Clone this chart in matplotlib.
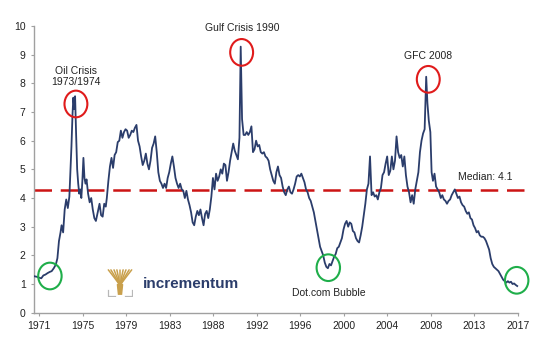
import matplotlib
matplotlib.use("Agg")
import matplotlib.pyplot as plt
from matplotlib.patches import Ellipse

plt.rcParams["font.family"] = ["Liberation Sans", "DejaVu Sans"]

# traced series (decimal year, value)
years = [
    1970.55, 1970.8, 1971.0, 1971.2, 1971.4, 1971.6, 1971.8, 1972.0, 1972.2, 1972.4,
    1972.6, 1972.75, 1972.9, 1973.05, 1973.15, 1973.3, 1973.45, 1973.6, 1973.75, 1973.9,
    1974.0, 1974.1, 1974.2, 1974.28, 1974.38, 1974.45, 1974.55, 1974.65, 1974.75, 1974.85,
    1974.95, 1975.05, 1975.15, 1975.25, 1975.35, 1975.45, 1975.55, 1975.7, 1975.85, 1976.0,
    1976.15, 1976.3, 1976.45, 1976.6, 1976.8, 1976.95, 1977.1, 1977.25, 1977.4, 1977.5,
    1977.65, 1977.8, 1977.95, 1978.1, 1978.25, 1978.4, 1978.55, 1978.7, 1978.85, 1979.0,
    1979.15, 1979.3, 1979.45, 1979.6, 1979.75, 1979.9, 1980.05, 1980.2, 1980.35, 1980.5,
    1980.65, 1980.8, 1980.95, 1981.1, 1981.25, 1981.4, 1981.55, 1981.7, 1981.85, 1982.0,
    1982.15, 1982.3, 1982.45, 1982.6, 1982.75, 1982.9, 1983.05, 1983.2, 1983.35, 1983.5,
    1983.65, 1983.8, 1983.95, 1984.1, 1984.25, 1984.4, 1984.55, 1984.7, 1984.85, 1985.0,
    1985.15, 1985.3, 1985.45, 1985.6, 1985.75, 1985.9, 1986.05, 1986.2, 1986.35, 1986.5,
    1986.65, 1986.8, 1986.95, 1987.1, 1987.25, 1987.4, 1987.55, 1987.7, 1987.85, 1988.0,
    1988.15, 1988.3, 1988.45, 1988.6, 1988.75, 1988.9, 1989.05, 1989.2, 1989.35, 1989.5,
    1989.65, 1989.8, 1989.95, 1990.1, 1990.25, 1990.37, 1990.5, 1990.65, 1990.8, 1990.95,
    1991.1, 1991.25, 1991.4, 1991.55, 1991.7, 1991.85, 1992.0, 1992.15, 1992.3, 1992.45,
    1992.6, 1992.75, 1992.9, 1993.05, 1993.2, 1993.35, 1993.5, 1993.65, 1993.8, 1993.95,
    1994.1, 1994.25, 1994.4, 1994.55, 1994.7, 1994.85, 1995.0, 1995.15, 1995.3, 1995.45,
    1995.6, 1995.75, 1995.9, 1996.05, 1996.2, 1996.35, 1996.5, 1996.65, 1996.8, 1996.95,
    1997.1, 1997.25, 1997.4, 1997.55, 1997.7, 1997.85, 1998.0, 1998.15, 1998.3, 1998.45,
    1998.6, 1998.75, 1998.9, 1999.05, 1999.2, 1999.35, 1999.5, 1999.65, 1999.8, 1999.95,
    2000.1, 2000.25, 2000.4, 2000.55, 2000.7, 2000.85, 2001.0, 2001.15, 2001.3, 2001.45,
    2001.6, 2001.75, 2001.9, 2002.05, 2002.2, 2002.35, 2002.5, 2002.65, 2002.8, 2002.95,
    2003.1, 2003.25, 2003.4, 2003.55, 2003.7, 2003.85, 2004.0, 2004.15, 2004.3, 2004.45,
    2004.6, 2004.75, 2004.9, 2005.05, 2005.2, 2005.35, 2005.5, 2005.65, 2005.8, 2005.95,
    2006.1, 2006.25, 2006.4, 2006.55, 2006.7, 2006.85, 2007.0, 2007.15, 2007.3, 2007.45,
    2007.6, 2007.75, 2007.9, 2008.05, 2008.2, 2008.32, 2008.45, 2008.6, 2008.72, 2008.85,
    2009.0, 2009.15, 2009.3, 2009.45, 2009.6, 2009.75, 2009.9, 2010.05, 2010.2, 2010.35,
    2010.5, 2010.65, 2010.8, 2010.95, 2011.1, 2011.25, 2011.4, 2011.55, 2011.7, 2011.85,
    2012.0, 2012.15, 2012.3, 2012.45, 2012.6, 2012.75, 2012.9, 2013.05, 2013.2, 2013.35,
    2013.5, 2013.65, 2013.8, 2013.95, 2014.1, 2014.25, 2014.4, 2014.55, 2014.7, 2014.85,
    2015.0, 2015.15, 2015.3, 2015.45, 2015.6, 2015.75, 2015.9, 2016.05, 2016.2, 2016.35,
    2016.5, 2016.65, 2016.8, 2016.95,
]
values = [
    1.27, 1.25, 1.22, 1.2, 1.3, 1.33, 1.38, 1.42, 1.45, 1.55,
    1.68, 1.9, 2.5, 2.8, 3.05, 2.8, 3.6, 3.95, 3.65, 4.05,
    4.9, 5.8, 6.9, 7.5, 7.1, 7.55, 6.2, 5.0, 4.5, 4.15,
    4.3, 4.0, 4.6, 5.4, 4.7, 4.5, 4.65, 4.15, 3.85, 4.0,
    3.6, 3.3, 3.2, 3.45, 3.8, 3.4, 3.35, 3.8, 3.7, 4.0,
    4.6, 5.1, 5.4, 5.05, 5.5, 5.6, 5.95, 6.0, 6.35, 6.1,
    6.3, 6.4, 6.35, 6.1, 6.2, 6.35, 6.3, 6.45, 6.55, 6.0,
    5.8, 5.45, 5.15, 5.3, 5.55, 5.2, 5.0, 5.3, 5.75, 5.9,
    6.15, 5.6, 4.9, 4.6, 4.5, 4.35, 4.5, 4.35, 4.7, 4.9,
    5.2, 5.45, 5.1, 4.7, 4.5, 4.35, 4.5, 4.3, 4.25, 4.0,
    4.25, 3.95, 3.75, 3.5, 3.15, 3.05, 3.35, 3.55, 3.4, 3.6,
    3.3, 3.05, 3.45, 3.55, 3.3, 3.6, 4.05, 4.7, 4.3, 4.85,
    4.6, 4.75, 5.0, 4.85, 5.2, 5.15, 4.6, 4.9, 5.3, 5.6,
    5.9, 5.65, 5.5, 5.35, 6.1, 9.28, 6.75, 6.2, 6.2, 6.3,
    6.2, 6.3, 6.5, 5.6, 5.7, 6.0, 5.8, 5.85, 5.6, 5.55,
    5.6, 5.45, 5.4, 5.3, 5.0, 4.8, 4.6, 4.5, 4.9, 5.1,
    4.8, 4.7, 4.4, 4.2, 4.1, 4.3, 4.4, 4.2, 4.15, 4.3,
    4.5, 4.75, 4.8, 4.75, 4.85, 4.7, 4.55, 4.3, 4.2, 4.0,
    3.9, 3.7, 3.5, 3.2, 2.9, 2.6, 2.3, 2.15, 2.0, 1.75,
    1.6, 1.55, 1.7, 1.65, 1.8, 1.95, 2.05, 2.25, 2.3, 2.45,
    2.6, 2.9, 3.1, 3.2, 3.0, 3.15, 3.1, 2.85, 2.8, 2.6,
    2.5, 2.45, 2.7, 3.0, 3.4, 3.8, 4.3, 4.5, 5.45, 4.1,
    4.2, 4.05, 4.1, 3.95, 4.2, 4.35, 4.8, 4.9, 5.2, 5.45,
    4.8, 4.95, 5.45, 5.0, 5.3, 6.15, 5.6, 5.4, 5.5, 5.1,
    5.45, 4.8, 4.4, 4.2, 3.85, 4.1, 3.8, 4.3, 4.6, 4.9,
    5.6, 6.0, 6.25, 6.4, 8.23, 7.3, 6.7, 6.3, 4.9, 4.6,
    4.85, 4.4, 4.3, 4.2, 4.0, 4.1, 3.95, 3.9, 3.8, 3.9,
    3.95, 4.1, 4.2, 4.3, 4.15, 4.0, 4.05, 3.85, 3.75, 3.7,
    3.55, 3.45, 3.5, 3.3, 3.25, 3.05, 2.95, 2.8, 2.85, 2.7,
    2.65, 2.65, 2.6, 2.5, 2.35, 2.2, 1.9, 1.7, 1.6, 1.55,
    1.5, 1.45, 1.35, 1.25, 1.15, 1.1, 1.05, 1.1, 1.05, 1.08,
    1.0, 1.02, 0.97, 0.93,
]

median_level = 4.27
median_label = "Median: 4.1"

tick_pos = [1971 + i * 46 / 11 for i in range(12)]
tick_labels = ["1971", "1975", "1979", "1983", "1988", "1992",
               "1996", "2000", "2004", "2008", "2013", "2017"]

# annotations: (text, x, y) - text centre
labels = [
    ("Oil Crisis\n1973/1974", 1974.55, 8.25),
    ("Gulf Crisis 1990", 1990.5, 9.93),
    ("GFC 2008", 2008.4, 8.97),
    ("Dot.com Bubble", 1998.85, 0.70),
    (median_label, 2013.86, 4.74),
]
red_rings = [(1974.53, 7.28), (1990.46, 9.08), (2008.4, 8.14)]
green_rings = [(1972.03, 1.28), (1998.79, 1.57), (2016.9, 1.13)]

NAVY = "#2b3d6b"
GREY = "#a0a0a0"

fig = plt.figure(figsize=(5.5, 3.52), dpi=100)
ax = fig.add_axes([34 / 550, 1 - 312.7 / 352, (524.5 - 34) / 550, (312.7 - 26) / 352])

ax.plot(years, values, color=NAVY, linewidth=1.3, zorder=3)
ax.axhline(median_level, color="#cc1414", linewidth=1.8, dashes=(7, 3.5), zorder=2)

for txt, x, y in labels:
    ax.text(x, y, txt, fontsize=7.5, color="#222222", ha="center", va="center",
            linespacing=1.15)

for x, y in red_rings:
    ax.add_patch(Ellipse((x, y), 2.2, 0.93, fill=False, edgecolor="#e01b1b",
                         linewidth=1.5, zorder=4, clip_on=False))
for x, y in green_rings:
    ax.add_patch(Ellipse((x, y), 2.25, 0.93, fill=False, edgecolor="#1fae4a",
                         linewidth=1.5, zorder=4, clip_on=False))

ax.set_xlim(1970.5, 2017.65)
ax.set_ylim(0, 10)
ax.set_yticks(range(0, 11))
ax.set_xticks(tick_pos)
ax.set_xticklabels(tick_labels)

for side in ["top", "right"]:
    ax.spines[side].set_visible(False)
ax.spines["left"].set_color(GREY)
ax.spines["bottom"].set_color(GREY)
ax.spines["left"].set_linewidth(1.0)
ax.spines["bottom"].set_linewidth(1.0)
ax.spines["bottom"].set_bounds(1970.5, 2017.05)
ax.tick_params(axis="both", colors=GREY, labelcolor="#222222", labelsize=7.5,
               length=2.5, width=0.8, pad=3.5)

# logo: tree icon + wordmark
lax = fig.add_axes([107 / 550, 1 - 297 / 352, 26 / 550, 28 / 352])
lax.set_xlim(0, 1)
lax.set_ylim(0, 1)
lax.axis("off")
GOLD = "#c9a04c"
lax.fill([0.44, 0.56, 0.6, 0.4], [0.1, 0.1, 0.45, 0.45], color=GOLD)
tips = [0.05, 0.15, 0.27, 0.38, 0.5, 0.62, 0.73, 0.85, 0.95]
for t in tips:
    lax.plot([0.5, 0.5 + (t - 0.5) * 0.5, t], [0.42, 0.7, 0.97], color=GOLD,
             linewidth=1.1, solid_capstyle="round")
lax.plot([0.02, 0.02, 0.3], [0.25, 0.02, 0.02], color="#b8b8b8", linewidth=0.9)
lax.plot([0.98, 0.98, 0.7], [0.25, 0.02, 0.02], color="#b8b8b8", linewidth=0.9)

fig.text(143 / 550, 1 - 284 / 352, "incrementum", fontsize=11, color=NAVY,
         ha="left", va="center", fontweight="bold")

fig.savefig("out.png", dpi=100)
